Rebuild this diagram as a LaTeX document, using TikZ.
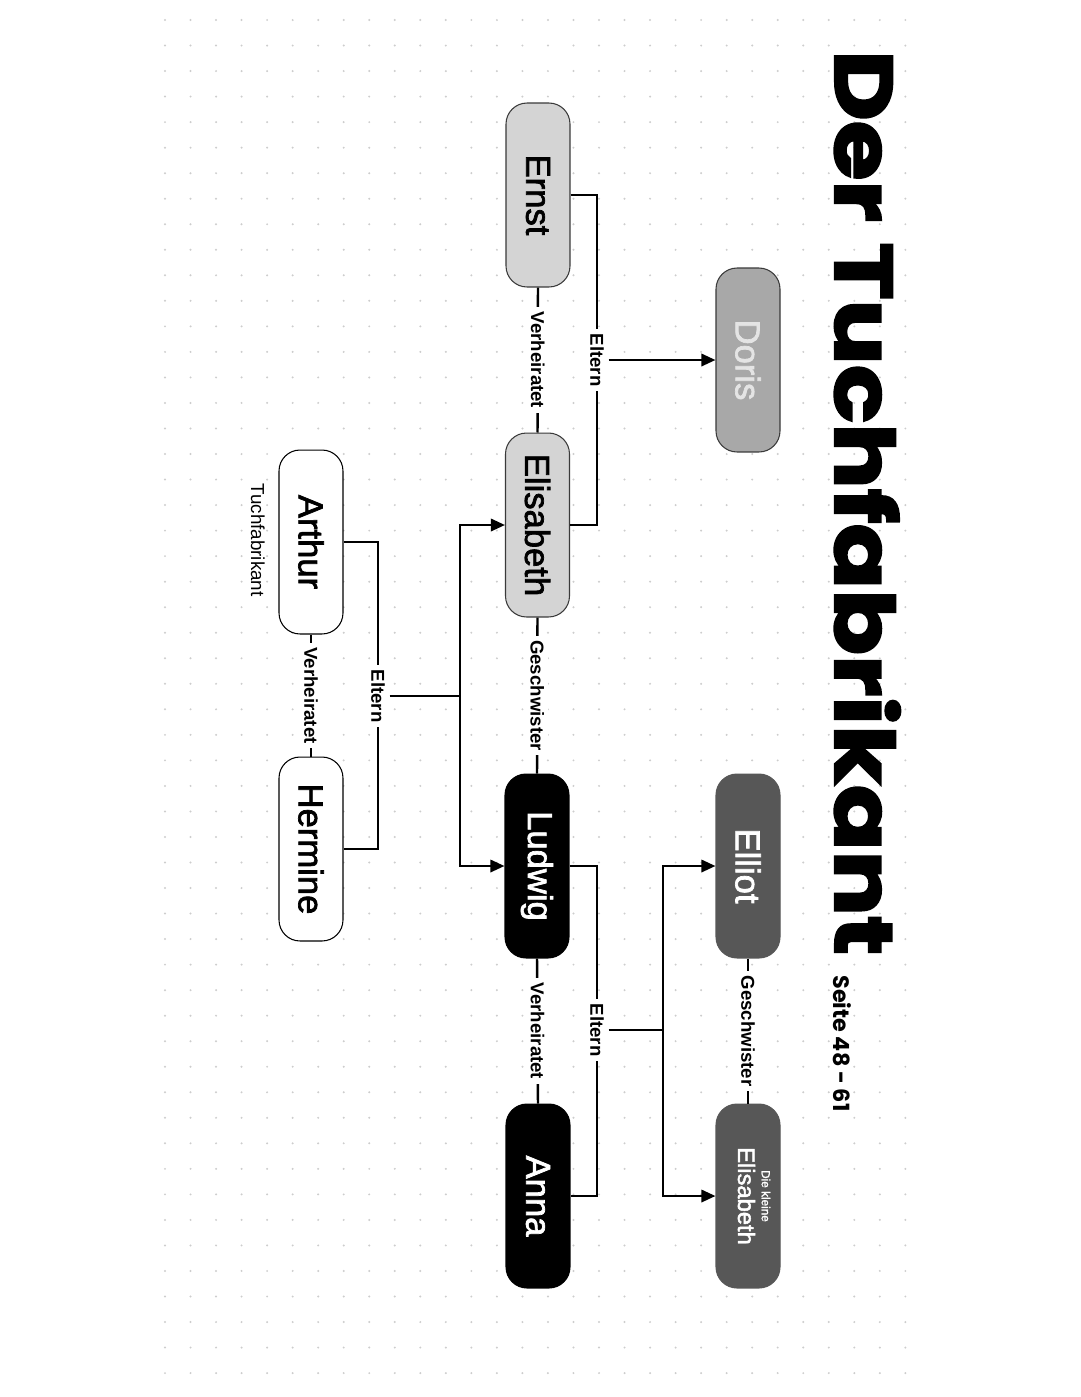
\documentclass[tikz,border=0pt]{standalone}
\usepackage{fontspec}
\setmainfont{Liberation Sans}
\newfontfamily\titlefont{Poppins}[BoldFeatures={FakeBold=2.5}]
\newfontfamily\pagefont{Poppins}
\newfontfamily\namefont{Liberation Sans}[FakeBold=2]
\usetikzlibrary{arrows.meta}
\definecolor{bg}{HTML}{FFFFFF}
\definecolor{dots}{HTML}{CDCDCD}
\definecolor{ink}{HTML}{000000}
\definecolor{pale}{HTML}{D4D4D4}
\definecolor{mid}{HTML}{A8A8A8}
\definecolor{midtext}{HTML}{E4E4E4}
\definecolor{dark}{HTML}{575757}
\definecolor{rim}{HTML}{3A3A3A}
\tikzset{
  person/.style={rounded corners=0.42cm, minimum width=3.68cm, minimum height=1.28cm, inner sep=0pt, line width=0.6pt, font=\namefont\fontsize{19.7}{22}\selectfont},
  elder/.style={person, draw=rim, fill=pale, text=ink},
  aunt/.style={person, draw=rim, fill=mid, text=midtext},
  root/.style={person, draw=ink, fill=bg, text=ink},
  main/.style={person, draw=ink, fill=ink, text=white},
  kid/.style={person, draw=dark, fill=dark, text=white},
  link/.style={draw=ink, line width=1.4pt},
  arr/.style={link, -{Triangle[length=8pt, width=7pt]}},
  rel/.style={fill=bg, inner sep=2.5pt, font=\bfseries\fontsize{10.6}{12}\selectfont},
}
\begin{document}
\begin{tikzpicture}[x=0.02cm, y=0.02cm]
  \fill[bg] (0,0) rectangle (1080,-1397);
  \useasboundingbox (0,0) rectangle (1080,-1397);
  \begin{scope}[rotate=-90, transform shape]
    % dot grid
    \foreach \i in {0,...,29}
      \foreach \j in {0,...,53}
        \fill[dots] ({20+25.53*\j},{165+25.53*\i}) circle (1.1);
    \node[anchor=base west, inner sep=0pt, xscale=1.185, font=\titlefont\bfseries\fontsize{46.5}{50}\selectfont] (title) at (50,835) {Der Tuchfabrikant};
    \node[anchor=base west, inner sep=0pt, font=\pagefont\bfseries\fontsize{12.7}{15}\selectfont] (pages) at (975,833) {Seite 48 - 61};

    \node[elder] (ernst) at (195,538) {Ernst};
    \node[elder] (elis) at (525,537.5) {Elisabeth};
    \node[aunt] (doris) at (360,748) {Doris};
    \node[root] (arthur) at (542,311) {Arthur};
    \node[root] (hermine) at (849,311) {Hermine};
    \node[main] (ludwig) at (866,537) {Ludwig};
    \node[main] (anna) at (1196,538) {Anna};
    \node[kid] (elliot) at (866,748) {Elliot};
    \node[kid, align=center] (little) at (1196,748) {{\fontsize{6.7}{8}\selectfont Die kleine}\\[-8.5pt]{\fontsize{13.5}{15}\selectfont Elisabeth}\\[-15pt]{}};
    \node[anchor=base, inner sep=0pt, font=\fontsize{10.7}{12}\selectfont] (job) at (540,251) {Tuchfabrikant};

    \draw[link] (ernst.east) -- node[rel] (m1) {Verheiratet} (elis.west);
    \draw[link] (elis.east) -- node[rel] (s1) {Geschwister} (ludwig.west);
    \draw[link] (arthur.east) -- node[rel] (m2) {Verheiratet} (hermine.west);
    \draw[link] (ludwig.east) -- node[rel] (m3) {Verheiratet} (anna.west);
    \draw[link] (elliot.east) -- node[rel] (s2) {Geschwister} (little.west);

    \coordinate (e1) at (360,597);
    \draw[link] (ernst.north) |- (e1) -| (elis.north);
    \node[rel] (p1) at (e1) {Eltern};
    \draw[arr] (p1.north) -- (doris.south);

    \coordinate (e2) at (696,378);
    \coordinate (j2) at (696,460);
    \draw[link] (arthur.north) |- (e2) -| (hermine.north);
    \node[rel] (p2) at (e2) {Eltern};
    \draw[link] (p2.north) -- (j2);
    \draw[arr] (j2) -| (elis.south);
    \draw[arr] (j2) -| (ludwig.south);

    \coordinate (e3) at (1030,597);
    \coordinate (j3) at (1030,663);
    \draw[link] (ludwig.north) |- (e3) -| (anna.north);
    \node[rel] (p3) at (e3) {Eltern};
    \draw[link] (p3.north) -- (j3);
    \draw[arr] (j3) -| (elliot.south);
    \draw[arr] (j3) -| (little.south);
  \end{scope}
\end{tikzpicture}
\end{document}
